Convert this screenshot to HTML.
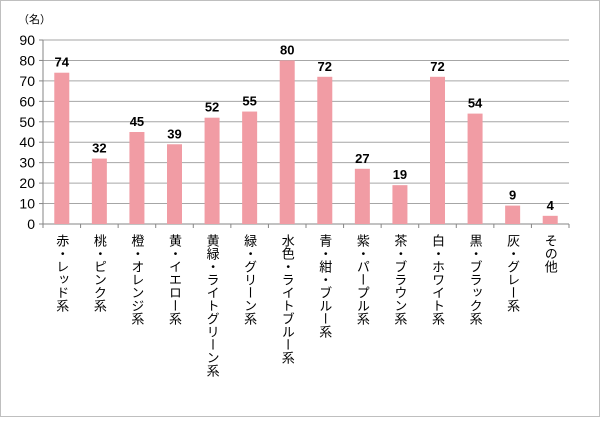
<!DOCTYPE html>
<html><head><meta charset="utf-8"><style>
body{margin:0;background:#fff}
#c{position:relative;width:600px;height:417px;font-family:"Liberation Sans","Noto Sans CJK JP",sans-serif}
</style></head><body>
<div id="c">
<svg id="s" width="600" height="417">
<rect x="0.5" y="0.5" width="599" height="416" fill="#fff" stroke="#bfbfbf"/>
<text x="18" y="23" font-size="11" fill="#000">（名）</text>
</svg>
</div>
<script>
const categories=["赤・レッド系","桃・ピンク系","橙・オレンジ系","黄・イエロー系","黄緑・ライトグリーン系","緑・グリーン系","水色・ライトブルー系","青・紺・ブルー系","紫・パープル系","茶・ブラウン系","白・ホワイト系","黒・ブラック系","灰・グレー系","その他"];
const values=[74,32,45,39,52,55,80,72,27,19,72,54,9,4];
const yTicks=[0,10,20,30,40,50,60,70,80,90];
const svg=document.getElementById('s');const NS='http://www.w3.org/2000/svg';
const x0=43,x1=569,y0=224,y1=40,yMax=90;
const bw=(x1-x0)/categories.length;
const y=v=>y0-(v/yMax)*(y0-y1);
function mk(t,a,p){const e=document.createElementNS(NS,t);for(const k in a)e.setAttribute(k,a[k]);(p||svg).appendChild(e);return e;}
yTicks.forEach(t=>{
 const g=mk('line',{x1:x0,x2:x1,y1:y(t),y2:y(t),stroke:t===0?'#868686':'#a6a6a6','stroke-width':1});
 
 
 const tk=mk('line',{x1:x0-4,x2:x0,y1:y(t),y2:y(t),stroke:'#868686'});
 
 
 const l=mk('text',{x:x0-8,y:y(t)+5,'text-anchor':'end','font-size':14,fill:'#000'});l.textContent=t;
 
 
});
const ax=mk('line',{x1:x0,x2:x0,y1:y1,y2:y0+4,stroke:'#868686'});


categories.forEach((c,i)=>{
 const tx=x0+(i+1)*bw;
 const tk=mk('line',{x1:tx,x2:tx,y1:y0,y2:y0+4,stroke:'#868686'});
 
 
 const cx=x0+(i+0.5)*bw,w=15;
 const r=mk('rect',{x:cx-w/2,y:y(values[i]),width:w,height:y0-y(values[i]),fill:'#f19ca4'});
 
 
 const v=mk('text',{x:cx,y:y(values[i])-6,'text-anchor':'middle','font-size':13,'font-weight':'bold',fill:'#000'});v.textContent=values[i];
 
 
 const l=mk('text',{x:cx,y:234,'font-size':13,fill:'#000','writing-mode':'tb','style':'writing-mode:vertical-rl;text-orientation:upright'});l.textContent=c;
 
 
});
</script>
</body></html>
